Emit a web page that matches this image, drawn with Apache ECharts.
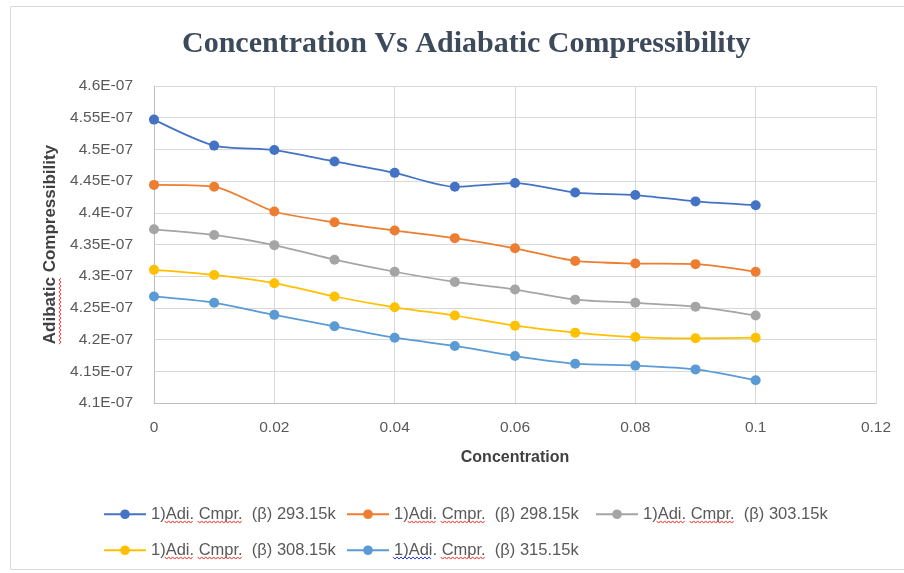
<!DOCTYPE html>
<html>
<head>
<meta charset="utf-8">
<title>Concentration Vs Adiabatic Compressibility</title>
<script src="https://cdn.jsdelivr.net/npm/echarts@6/dist/echarts.min.js"></script>
<style>
  html, body { margin: 0; padding: 0; background: #ffffff; }
  #chart { width: 904px; height: 573px; }
</style>
</head>
<body>
<div id="chart"></div>
<script>
// Concentration (x axis)
const concentration = [0, 0.01, 0.02, 0.03, 0.04, 0.05, 0.06, 0.07, 0.08, 0.09, 0.1];

// Adiabatic compressibility at each temperature
const beta29315 = [4.547e-7, 4.506e-7, 4.499e-7, 4.481e-7, 4.463e-7, 4.441e-7, 4.447e-7, 4.432e-7, 4.428e-7, 4.418e-7, 4.412e-7];
const beta29815 = [4.444e-7, 4.441e-7, 4.402e-7, 4.385e-7, 4.372e-7, 4.360e-7, 4.344e-7, 4.324e-7, 4.320e-7, 4.319e-7, 4.307e-7];
const beta30315 = [4.374e-7, 4.365e-7, 4.349e-7, 4.326e-7, 4.307e-7, 4.291e-7, 4.279e-7, 4.263e-7, 4.258e-7, 4.252e-7, 4.238e-7];
const beta30815 = [4.310e-7, 4.302e-7, 4.289e-7, 4.268e-7, 4.251e-7, 4.238e-7, 4.222e-7, 4.211e-7, 4.204e-7, 4.202e-7, 4.203e-7];
const beta31515 = [4.268e-7, 4.258e-7, 4.239e-7, 4.221e-7, 4.203e-7, 4.190e-7, 4.174e-7, 4.162e-7, 4.159e-7, 4.153e-7, 4.136e-7];

const seriesNames = [
  '1)Adi. Cmpr.  (\u03b2) 293.15k',
  '1)Adi. Cmpr.  (\u03b2) 298.15k',
  '1)Adi. Cmpr.  (\u03b2) 303.15k',
  '1)Adi. Cmpr.  (\u03b2) 308.15k',
  '1)Adi. Cmpr.  (\u03b2) 315.15k'
];
const seriesValues = [beta29315, beta29815, beta30315, beta30815, beta31515];
const seriesColors = ['#4472C4', '#ED7D31', '#A5A5A5', '#FFC000', '#5B9BD5'];

// Axis tick labels
const xTickLabels = ['0', '0.02', '0.04', '0.06', '0.08', '0.1', '0.12'];
const yTickLabels = ['4.1E-07', '4.15E-07', '4.2E-07', '4.25E-07', '4.3E-07', '4.35E-07',
                     '4.4E-07', '4.45E-07', '4.5E-07', '4.55E-07', '4.6E-07'];

const xMin = 0, xStep = 0.02;
const yMin = 4.1e-7, yStep = 0.05e-7;

const sansFont = 'Liberation Sans';
const yAxisTitle = 'Adibatic Compressibility';

// Layout constants
const gridBox = { left: 154, right: 28, top: 86, bottom: 170 };
const legendFont = 16.5;
const legendIconW = 42;
// legend slots: [left, row centre] for each series entry
const legendSlots = [[103, 514], [346, 514], [595, 514], [103, 550], [346, 550]];
const yNameFont = 17;
const yNameGap = 93;

const chart = echarts.init(document.getElementById('chart'), null, { renderer: 'canvas' });

const series = seriesNames.map((name, i) => ({
  name: name,
  type: 'line',
  data: concentration.map((c, j) => [c, seriesValues[i][j]]),
  smooth: 0.25,
  symbol: 'circle',
  symbolSize: 10,
  showSymbol: true,
  lineStyle: { width: 1.75, color: seriesColors[i] },
  itemStyle: { color: seriesColors[i] },
  emphasis: { disabled: true },
  z: 10 - i
}));

const legends = seriesNames.map((name, i) => ({
  orient: 'horizontal',
  left: legendSlots[i][0],
  top: legendSlots[i][1] - legendFont / 2,
  padding: 0,
  itemWidth: legendIconW,
  itemHeight: 12,
  data: [name],
  textStyle: { fontFamily: sansFont, fontSize: legendFont, color: '#595959' }
}));

// Spell-check style wavy underline, drawn as a zigzag polyline
function wavy(x0, y0, x1, y1, color) {
  const len = Math.hypot(x1 - x0, y1 - y0);
  const ux = (x1 - x0) / len, uy = (y1 - y0) / len;
  const nx = -uy, ny = ux;
  const pts = [];
  const step = 2;
  for (let d = 0, k = 0; d <= len + 0.01; d += step, k++) {
    const a = (k % 2 === 0 ? -1.1 : 1.1);
    pts.push([x0 + ux * d + nx * a, y0 + uy * d + ny * a]);
  }
  return {
    type: 'polyline',
    shape: { points: pts },
    style: { stroke: color, lineWidth: 1, fill: null },
    silent: true,
    z: 20
  };
}

const measureCtx = document.createElement('canvas').getContext('2d');
function textW(str, size, weight) {
  measureCtx.font = (weight || 'normal') + ' ' + size + 'px "' + sansFont + '"';
  return measureCtx.measureText(str).width;
}

const squiggles = [];
seriesNames.forEach((name, si) => {
  const tx = legendSlots[si][0] + legendIconW + 5;
  const by = legendSlots[si][1] + 8;
  const cStart = tx + textW('1)Adi. ', legendFont);
  const cEnd = tx + textW('1)Adi. Cmpr.', legendFont);
  if (si === 4) {
    squiggles.push(wavy(tx, by, tx + textW('1)Adi', legendFont), by, '#2b3fd6'));
  } else {
    squiggles.push(wavy(tx + textW('1)', legendFont), by, tx + textW('1)Adi.', legendFont), by, '#e8332e'));
  }
  squiggles.push(wavy(cStart, by, cEnd, by, '#e8332e'));
});

// Wavy mark under "Adibatic" in the rotated y-axis title
const plotMidY = gridBox.top + (573 - gridBox.top - gridBox.bottom) / 2;
const yTitleW = textW(yAxisTitle, yNameFont, 'bold');
const yTitleBottom = plotMidY + yTitleW / 2;
const adiW = textW('Adibatic', yNameFont, 'bold');
const yTitleX = gridBox.left - yNameGap - 1;
squiggles.push(wavy(yTitleX, yTitleBottom, yTitleX, yTitleBottom - adiW, '#e8332e'));

chart.setOption({
  animation: false,
  backgroundColor: '#ffffff',
  color: seriesColors,
  title: {
    text: 'Concentration Vs Adiabatic Compressibility',
    left: 177,
    top: 24,
    textStyle: {
      fontFamily: 'Liberation Serif, Times New Roman, serif',
      fontWeight: 'bold',
      fontSize: 30,
      color: '#3d4a5c'
    }
  },
  legend: legends,
  grid: Object.assign({ containLabel: false }, gridBox),
  xAxis: {
    type: 'value',
    min: 0,
    max: 0.12,
    interval: xStep,
    name: 'Concentration',
    nameLocation: 'middle',
    nameGap: 47,
    nameTextStyle: { fontFamily: sansFont, fontWeight: 'bold', fontSize: 16, color: '#404040' },
    axisLine: { show: true, lineStyle: { color: '#bfbfbf', width: 1 } },
    axisTick: { show: false },
    splitLine: { show: true, lineStyle: { color: '#d9d9d9', width: 1 } },
    axisLabel: {
      margin: 17,
      fontFamily: sansFont,
      fontSize: 15.5,
      color: '#595959',
      formatter: v => xTickLabels[Math.round((v - xMin) / xStep)]
    }
  },
  yAxis: {
    type: 'value',
    min: 4.1e-7,
    max: 4.6e-7,
    interval: yStep,
    name: yAxisTitle,
    nameLocation: 'middle',
    nameRotate: 90,
    nameGap: yNameGap,
    nameTextStyle: { fontFamily: sansFont, fontWeight: 'bold', fontSize: yNameFont, color: '#404040' },
    axisLine: { show: true, lineStyle: { color: '#bfbfbf', width: 1 } },
    axisTick: { show: false },
    splitLine: { show: true, lineStyle: { color: '#d9d9d9', width: 1 } },
    axisLabel: {
      margin: 21,
      fontFamily: sansFont,
      fontSize: 15.5,
      color: '#595959',
      formatter: v => yTickLabels[Math.round((v - yMin) / yStep)]
    }
  },
  graphic: [
    {
      type: 'rect',
      shape: { x: 10.5, y: 6.5, width: 900, height: 563 },
      style: { fill: 'none', stroke: '#d9d9d9', lineWidth: 1 },
      silent: true,
      z: -1
    }
  ].concat(squiggles),
  series: series
});
</script>
</body>
</html>
